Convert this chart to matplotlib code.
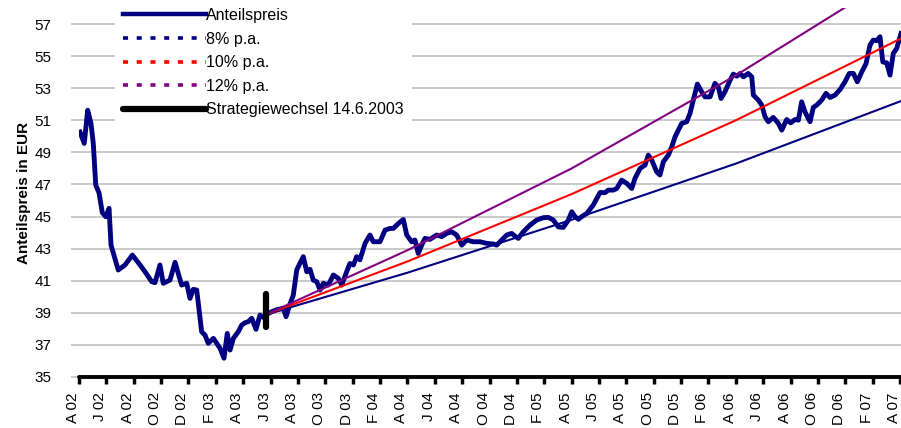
import matplotlib
matplotlib.use('Agg')
import matplotlib.pyplot as plt
from matplotlib.lines import Line2D
from matplotlib.transforms import ScaledTranslation

plt.rcParams['font.family'] = ['Liberation Sans', 'DejaVu Sans']

# Anteilspreis (decimal years / EUR)
dates = [2002.256, 2002.282, 2002.303, 2002.323, 2002.337, 2002.352, 2002.372, 2002.392,
         2002.413, 2002.433, 2002.445, 2002.489, 2002.530, 2002.575, 2002.622, 2002.652,
         2002.693, 2002.713, 2002.743, 2002.763, 2002.804, 2002.835, 2002.875, 2002.906,
         2002.926, 2002.946, 2002.967, 2002.997, 2003.017, 2003.037, 2003.068, 2003.109,
         2003.133, 2003.153, 2003.170, 2003.190, 2003.220, 2003.241, 2003.261, 2003.281,
         2003.302, 2003.328, 2003.352, 2003.372, 2003.393, 2003.424, 2003.456, 2003.494,
         2003.511, 2003.535, 2003.555, 2003.576, 2003.596, 2003.616, 2003.637, 2003.657,
         2003.677, 2003.698, 2003.718, 2003.738, 2003.768, 2003.799, 2003.829, 2003.850,
         2003.880, 2003.900, 2003.921, 2003.941, 2003.961, 2003.992, 2004.022, 2004.042,
         2004.083, 2004.114, 2004.144, 2004.164, 2004.195, 2004.225, 2004.246, 2004.276,
         2004.296, 2004.316, 2004.337, 2004.357, 2004.388, 2004.428, 2004.459, 2004.489,
         2004.520, 2004.550, 2004.581, 2004.611, 2004.651, 2004.692, 2004.733, 2004.773,
         2004.794, 2004.814, 2004.855, 2004.885, 2004.905, 2004.925, 2004.956, 2004.997,
         2005.037, 2005.078, 2005.108, 2005.139, 2005.169, 2005.199, 2005.230, 2005.251,
         2005.271, 2005.291, 2005.311, 2005.342, 2005.382, 2005.423, 2005.453, 2005.474,
         2005.504, 2005.525, 2005.555, 2005.586, 2005.616, 2005.636, 2005.667, 2005.697,
         2005.717, 2005.738, 2005.768, 2005.788, 2005.809, 2005.839, 2005.860, 2005.880,
         2005.900, 2005.921, 2005.951, 2005.971, 2005.991, 2006.016, 2006.042, 2006.062,
         2006.093, 2006.123, 2006.143, 2006.160, 2006.184, 2006.215, 2006.235, 2006.256,
         2006.276, 2006.296, 2006.326, 2006.347, 2006.357, 2006.387, 2006.408, 2006.428,
         2006.448, 2006.478, 2006.509, 2006.530, 2006.560, 2006.584, 2006.611, 2006.631,
         2006.651, 2006.671, 2006.702, 2006.722, 2006.743, 2006.773, 2006.799, 2006.824,
         2006.854, 2006.885, 2006.915, 2006.941, 2006.966, 2006.990, 2007.017, 2007.043,
         2007.067, 2007.087, 2007.108, 2007.128, 2007.145, 2007.169, 2007.189, 2007.209,
         2007.230, 2007.256]
prices = [50.27, 49.56, 51.63, 50.80, 49.56, 46.96, 46.48, 45.24,
          44.99, 45.51, 43.22, 41.67, 41.98, 42.60, 41.98, 41.56,
          40.94, 40.88, 41.98, 40.84, 41.04, 42.15, 40.73, 40.84,
          39.90, 40.46, 40.42, 37.82, 37.62, 37.10, 37.41, 36.79,
          36.17, 37.72, 36.68, 37.41, 37.82, 38.24, 38.38, 38.45,
          38.66, 37.97, 38.86, 38.72, 38.90, 39.07, 39.20, 39.28,
          38.76, 39.55, 40.10, 41.67, 42.10, 42.50, 41.56, 41.71,
          41.04, 40.94, 40.42, 40.84, 40.73, 41.36, 41.15, 40.73,
          41.56, 42.08, 41.98, 42.50, 42.30, 43.33, 43.85, 43.43,
          43.43, 44.16, 44.26, 44.26, 44.57, 44.82, 43.85, 43.43,
          43.54, 42.70, 43.22, 43.64, 43.58, 43.85, 43.75, 43.95,
          44.05, 43.85, 43.22, 43.54, 43.43, 43.43, 43.33, 43.29,
          43.22, 43.43, 43.85, 43.95, 43.78, 43.64, 44.05, 44.47,
          44.78, 44.93, 44.95, 44.78, 44.36, 44.32, 44.78, 45.30,
          44.99, 44.83, 44.99, 45.19, 45.72, 46.50, 46.49, 46.65,
          46.65, 46.75, 47.27, 47.07, 46.75, 47.38, 48.00, 48.21,
          48.83, 48.52, 47.79, 47.59, 48.42, 48.83, 49.35, 49.97,
          50.39, 50.81, 50.91, 51.43, 52.26, 53.26, 52.78, 52.46,
          52.46, 53.30, 53.09, 52.36, 52.78, 53.50, 53.88, 53.75,
          53.92, 53.71, 53.92, 53.71, 52.57, 52.26, 51.95, 51.22,
          50.91, 51.18, 50.81, 50.39, 51.05, 50.84, 51.05, 51.01,
          52.15, 51.53, 50.91, 51.80, 51.95, 52.26, 52.68, 52.42,
          52.57, 52.92, 53.40, 53.92, 53.92, 53.40, 54.02, 54.53,
          55.68, 56.00, 55.96, 56.21, 54.64, 54.58, 53.82, 55.17,
          55.48, 56.41]

# reference growth lines from the strategy change on
growth_dates = [2003.39, 2004.25, 2005.25, 2006.25, 2007.256]
p8 = [38.9, 41.5, 44.8, 48.3, 52.2]
p10 = [38.9, 42.2, 46.4, 51.0, 56.1]
p12 = [38.9, 42.9, 48.0, 53.8, 60.2]

switch_date = 2003.39
switch_low, switch_high = 38.1, 40.2

tick_labels = ['A 02', 'J 02', 'A 02', 'O 02', 'D 02', 'F 03', 'A 03', 'J 03', 'A 03', 'O 03',
               'D 03', 'F 04', 'A 04', 'J 04', 'A 04', 'O 04', 'D 04', 'F 05', 'A 05', 'J 05',
               'A 05', 'O 05', 'D 05', 'F 06', 'A 06', 'J 06', 'A 06', 'O 06', 'D 06', 'F 07',
               'A 07']
tick_pos = [2002.25 + i / 6 for i in range(len(tick_labels))]

navy, red, purple = '#000080', '#ff0000', '#800080'

fig = plt.figure(figsize=(9.01, 4.28), dpi=100)
ax = fig.add_axes([79 / 901, 51 / 428, 822 / 901, 369 / 428])

ax.plot(dates, prices, color=navy, lw=3.5, solid_joinstyle='round', zorder=3)
ax.plot(growth_dates, p8, color=navy, lw=1.5, zorder=4)
ax.plot(growth_dates, p10, color=red, lw=1.5, zorder=4)
ax.plot(growth_dates, p12, color=purple, lw=1.5, zorder=4)
ax.plot([switch_date, switch_date], [switch_low, switch_high], color='black', lw=4.5,
        solid_capstyle='round', zorder=5)

ax.set_xlim(2002.25, 2007.256)
ax.set_ylim(35, 58)
ax.set_yticks(range(35, 58, 2))
ax.set_xticks(tick_pos)
ax.set_xticklabels(tick_labels, rotation=90)
ax.tick_params(axis='x', direction='out', length=5, width=2.5, color='black', pad=6, labelsize=11)
ax.tick_params(axis='y', direction='out', length=6, width=1.2, color='#c0c0c0', pad=14, labelsize=11)
off = ScaledTranslation(-0.06, 0, fig.dpi_scale_trans)
for lbl in ax.get_xticklabels():
    lbl.set_transform(lbl.get_transform() + off)

ax.grid(axis='y', color='#c0c0c0', lw=1.2)
ax.set_axisbelow(True)
for s in ['left', 'top', 'right']:
    ax.spines[s].set_visible(False)
ax.spines['bottom'].set_linewidth(2.8)
ax.spines['bottom'].set_capstyle('round')

ax.set_ylabel('Anteilspreis in EUR', fontweight='bold', fontsize=11)
ax.yaxis.set_label_coords((31 - 79) / 822, 0.5)

dots = (0, (1.4, 2.4))
handles = [Line2D([], [], color=navy, lw=3.2),
           Line2D([], [], color=navy, lw=2.6, linestyle=dots),
           Line2D([], [], color=red, lw=2.6, linestyle=dots),
           Line2D([], [], color=purple, lw=2.6, linestyle=dots),
           Line2D([], [], color='black', lw=4.5, solid_capstyle='round')]
labels = ['Anteilspreis', '8% p.a.', '10% p.a.', '12% p.a.', 'Strategiewechsel 14.6.2003']
fig.legend(handles, labels, loc='upper left', bbox_to_anchor=(115 / 901, 1.0),
           bbox_transform=fig.transFigure, frameon=True, facecolor='white', edgecolor='none',
           framealpha=1, fancybox=False, fontsize=11.5, handlelength=5.2, handletextpad=0.0,
           labelspacing=0.54, borderpad=0.5, borderaxespad=0)

fig.savefig('out.png', dpi=100)
